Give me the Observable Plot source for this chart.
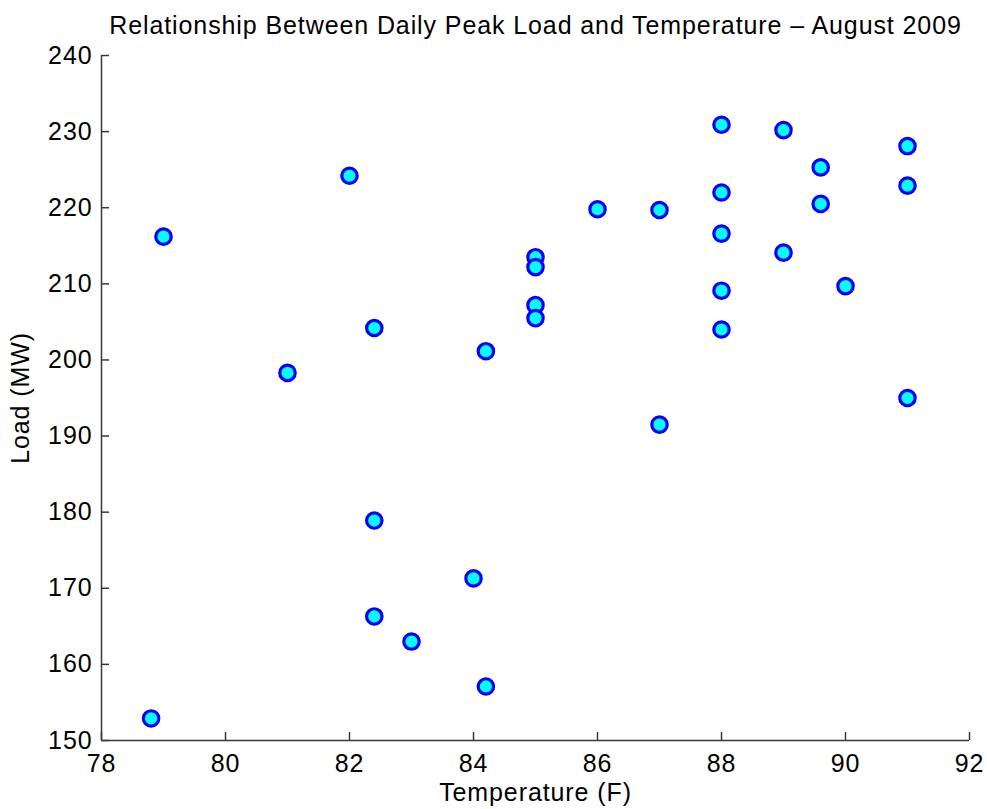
<!DOCTYPE html>
<html>
<head>
<meta charset="utf-8">
<script src="https://cdn.jsdelivr.net/npm/d3@7"></script>
<script src="https://cdn.jsdelivr.net/npm/@observablehq/plot@0.6"></script>
<style>
  html, body { margin: 0; padding: 0; background: #fff; }
  #chart svg { display: block; }
  #chart svg text { letter-spacing: 0.9px; }
</style>
</head>
<body>
<div id="chart"></div>
<script>
// Daily peak temperature (F) and peak load (MW), August 2009
const temperature = [78.8, 79, 81, 82, 82.4, 82.4, 82.4, 83, 84, 84.2, 84.2,
  85, 85, 85, 85, 86, 87, 87, 88, 88, 88, 88, 88, 89, 89, 89.6, 89.6, 90, 91, 91, 91];
const peakLoad = [152.9, 216.2, 198.3, 224.2, 204.2, 178.9, 166.3, 163.0, 171.3, 201.15, 157.1,
  213.5, 212.2, 207.2, 205.5, 219.8, 219.7, 191.5, 230.9, 222.0, 216.6, 209.1, 204.0,
  230.2, 214.1, 225.3, 220.5, 209.7, 228.1, 222.9, 195.0];

const xTicks = [78, 80, 82, 84, 86, 88, 90, 92];
const yTicks = [150, 160, 170, 180, 190, 200, 210, 220, 230, 240];

const titleText = "Relationship Between Daily Peak Load and Temperature \u2013 August 2009";
const xLabel = "Temperature (F)";
const yLabel = "Load (MW)";

const days = temperature.map((t, i) => ({temperature: t, load: peakLoad[i]}));

const W = 987, H = 809;
const margin = {top: 55, right: 18, bottom: 69, left: 101};
const innerW = W - margin.left - margin.right;
const innerH = H - margin.top - margin.bottom;
const tickLen = 8;
const axisColor = "#383838";
const fs = 25;

const chart = Plot.plot({
  width: W,
  height: H,
  marginTop: margin.top,
  marginRight: margin.right,
  marginBottom: margin.bottom,
  marginLeft: margin.left,
  style: {fontFamily: "'Liberation Sans', Arial, Helvetica, sans-serif", color: "#000", background: "#fff"},
  x: {domain: [78, 92]},
  y: {domain: [150, 240]},
  marks: [
    // tick labels
    Plot.axisX(xTicks, {tickSize: 0, tickPadding: 14, fontSize: fs, label: null}),
    Plot.axisY(yTicks, {tickSize: 0, tickPadding: 9, fontSize: fs, label: null}),
    // inward tick marks
    Plot.ruleX(xTicks, {insetTop: innerH - tickLen, stroke: axisColor, strokeWidth: 1.5}),
    Plot.ruleY(yTicks, {insetRight: innerW - tickLen, stroke: axisColor, strokeWidth: 1.5}),
    // axis lines
    Plot.ruleX([78], {stroke: axisColor, strokeWidth: 1.5}),
    Plot.ruleY([150], {stroke: axisColor, strokeWidth: 1.5}),
    // data
    Plot.dot(days, {x: "temperature", y: "load", r: 7.7, fill: "#00ffff", stroke: "#0000ff", strokeWidth: 3.2}),
    // title and axis labels
    Plot.text([titleText], {frameAnchor: "top", lineAnchor: "middle", textAnchor: "middle", dy: -29.5, fontSize: fs, fill: "#000"}),
    Plot.text([xLabel], {frameAnchor: "bottom", lineAnchor: "middle", textAnchor: "middle", dy: 52, fontSize: fs, fill: "#000"}),
    Plot.text([yLabel], {frameAnchor: "left", lineAnchor: "middle", textAnchor: "middle", dx: -81, rotate: -90, fontSize: fs, fill: "#000"})
  ]
});

document.getElementById("chart").appendChild(chart);
</script>
</body>
</html>
